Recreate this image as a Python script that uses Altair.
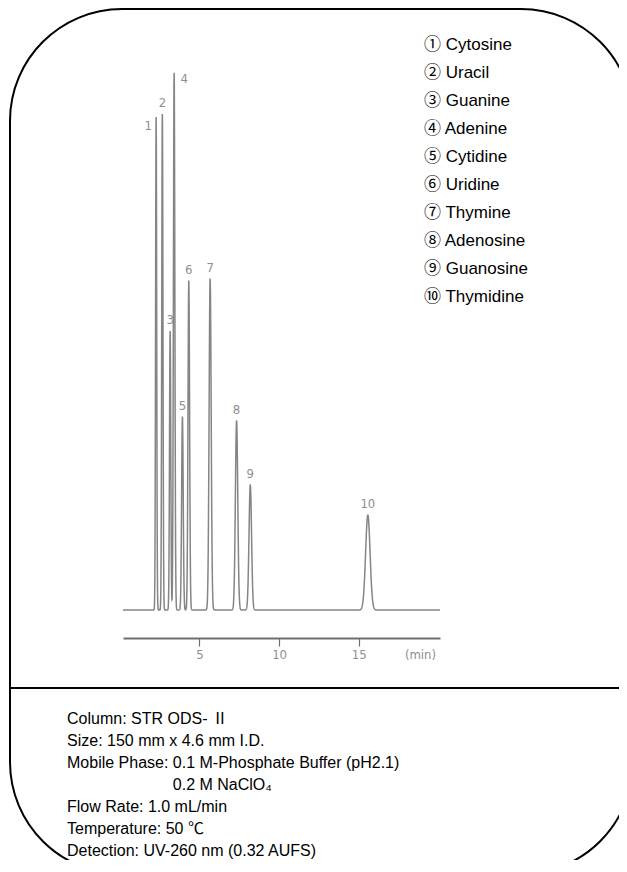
import altair as alt
import numpy as np
import pandas as pd

# ---- data ----
peak_numbers = [1, 2, 3, 4, 5, 6, 7, 8, 9, 10]
retention_times = [2.28, 2.67, 3.16, 3.41, 3.93, 4.33, 5.67, 7.33, 8.19, 15.57]   # min
peak_heights = [493, 496, 279, 537, 193, 329, 331, 189, 125, 95]                  # detector units
peak_sigmas = [0.035, 0.038, 0.040, 0.045, 0.050, 0.050, 0.065, 0.075, 0.080, 0.140]
compound_names = ["Cytosine", "Uracil", "Guanine", "Adenine", "Cytidine",
                  "Uridine", "Thymine", "Adenosine", "Guanosine", "Thymidine"]
circled_numbers = ["①", "②", "③", "④", "⑤", "⑥", "⑦", "⑧", "⑨", "⑩"]
conditions = ["Column: STR ODS- Ⅱ",
              "Size: 150 mm x 4.6 mm I.D.",
              "Mobile Phase: 0.1 M-Phosphate Buffer (pH2.1)",
              "0.2 M NaClO₄",
              "Flow Rate: 1.0 mL/min",
              "Temperature: 50 ℃",
              "Detection: UV-260 nm (0.32 AUFS)"]
time_ticks = [5, 10, 15]
time_range = [0.2, 20.1]

# ---- chromatogram trace built from the peak table ----
t = np.round(np.arange(time_range[0], time_range[1] + 1e-9, 0.004), 4)
signal = np.zeros_like(t)
for rt, h, s in zip(retention_times, peak_heights, peak_sigmas):
    signal += h * np.exp(-0.5 * ((t - rt) / s) ** 2)
trace_df = pd.DataFrame({"time": t, "signal": signal})

peaks_df = pd.DataFrame({"num": peak_numbers, "rt": retention_times, "h": peak_heights})

TRACE = "#858585"
LABEL = "#8f8f8f"
NUMFONT = "DejaVu Sans Condensed, Liberation Sans Narrow, sans-serif"
TXTFONT = "Liberation Sans, Arial, Noto Sans CJK JP, sans-serif"

xscale = alt.Scale(domain=time_range, nice=False, zero=False)
yscale = alt.Scale(domain=[-28, 550], nice=False, zero=False)

trace = alt.Chart(trace_df).mark_line(color=TRACE, strokeWidth=1.5).encode(
    x=alt.X("time:Q", scale=xscale,
            axis=alt.Axis(values=time_ticks, title="(min)", grid=False,
                          domainColor="#6e6e6e", domainWidth=1.8,
                          tickColor="#6e6e6e", tickSize=8, tickWidth=1.2,
                          labelColor=LABEL, labelFont=NUMFONT, labelFontSize=13,
                          labelPadding=2,
                          titleColor=LABEL, titleFont=NUMFONT, titleFontSize=13,
                          titleFontWeight="normal", titleX=297, titleY=16,
                          titleBaseline="middle", titleAlign="center")),
    y=alt.Y("signal:Q", scale=yscale, axis=None),
)

def peak_labels(filt, dx, dy):
    return alt.Chart(peaks_df).transform_filter(filt).mark_text(
        color=LABEL, font=NUMFONT, fontSize=13, dx=dx, dy=dy, baseline="middle"
    ).encode(
        x=alt.X("rt:Q", scale=xscale),
        y=alt.Y("h:Q", scale=yscale),
        text="num:N",
    )

lab_main = peak_labels("datum.num != 1 && datum.num != 4", 0, -11)
lab_1 = peak_labels("datum.num == 1", -8, 9)
lab_4 = peak_labels("datum.num == 4", 10, 6)

one = pd.DataFrame({"k": [0]})

# rounded frame; its right and bottom sides run off the picture as in the reference
border = alt.Chart(one).mark_rect(
    fillOpacity=0, stroke="black", strokeWidth=2, cornerRadius=112
).encode(x=alt.value(-113), x2=alt.value(510), y=alt.value(-51), y2=alt.value(814))

divider = alt.Chart(one).mark_rule(color="black", strokeWidth=2).encode(
    x=alt.value(-113), x2=alt.value(500), y=alt.value(628))

legend_layers = []
for i, (c, n) in enumerate(zip(circled_numbers, compound_names)):
    legend_layers.append(
        alt.Chart(one).mark_text(align="left", baseline="middle", fontSize=17,
                                 font=TXTFONT, color="black").encode(
            x=alt.value(301), y=alt.value(-15 + 28 * i), text=alt.value(f"{c} {n}"))
    )

cond_layers = []
FS = 16
for i, line in enumerate(conditions):
    xpos = -56 + (6.614 * FS if i == 3 else 0)
    cond_layers.append(
        alt.Chart(one).mark_text(align="left", baseline="middle", fontSize=FS,
                                 font=TXTFONT, color="black").encode(
            x=alt.value(xpos), y=alt.value(659 + 22 * i), text=alt.value(line))
    )

chart = alt.layer(border, divider, trace, lab_main, lab_1, lab_4,
                  *legend_layers, *cond_layers).properties(
    width=317, height=578,
    padding={"left": 115, "top": 52, "right": 179, "bottom": 222},
    autosize="none",
).configure_view(stroke=None)

chart.save("out.html", embed_options={"renderer": "svg", "actions": False})
